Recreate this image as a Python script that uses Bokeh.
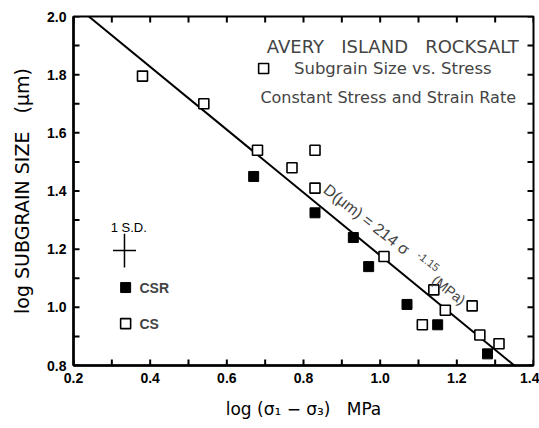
from bokeh.plotting import figure
from bokeh.models import Range1d, FixedTicker, Label, PrintfTickFormatter
from bokeh.embed import file_html
from bokeh.resources import INLINE
import math

# ---- data ----
cs_x = [0.38, 0.54, 0.68, 0.77, 0.83, 0.83, 1.01, 1.11, 1.14, 1.17, 1.24, 1.26, 1.31]
cs_y = [1.795, 1.70, 1.54, 1.48, 1.54, 1.41, 1.175, 0.94, 1.06, 0.99, 1.005, 0.905, 0.875]
csr_x = [0.67, 0.83, 0.93, 0.97, 1.07, 1.15, 1.28]
csr_y = [1.45, 1.325, 1.24, 1.14, 1.01, 0.94, 0.84]
fit_x = [0.24, 1.35]
fit_y = [2.0, 0.8]
sd_center = (0.333, 1.195)
sd_half = (0.03, 0.058)
x_ticks = [0.2, 0.4, 0.6, 0.8, 1.0, 1.2, 1.4]
x_minor = [0.3, 0.5, 0.7, 0.9, 1.1, 1.3]
y_ticks = [0.8, 1.0, 1.2, 1.4, 1.6, 1.8, 2.0]
y_minor = [0.9, 1.1, 1.3, 1.5, 1.7, 1.9]
x_lo, x_hi = 0.2, 1.4
y_lo, y_hi = 0.8, 2.0

FONT = "Liberation Sans"
WIDE = "DejaVu Sans"
NB = "\u00a0"
FW, FH = 460, 349
TICK_PX = 6

p = figure(frame_width=FW, frame_height=FH, output_backend="svg", toolbar_location=None,
           x_range=Range1d(x_lo, x_hi), y_range=Range1d(y_lo, y_hi),
           min_border_left=73, min_border_right=6, min_border_top=16, min_border_bottom=63,
           x_axis_label="log (σ₁ − σ₃)" + NB * 3 + "MPa",
           y_axis_label="log SUBGRAIN SIZE" + NB * 3 + "(μm)")
p.grid.visible = False
p.outline_line_color = "black"
p.outline_line_width = 2
p.background_fill_color = "white"
p.border_fill_color = "white"

for ax, ticks, minor in ((p.xaxis[0], x_ticks, x_minor), (p.yaxis[0], y_ticks, y_minor)):
    ax.ticker = FixedTicker(ticks=ticks, minor_ticks=minor)
    ax.axis_line_width = 2.5
    ax.axis_line_color = "black"
    ax.major_tick_in = 0
    ax.major_tick_out = 0
    ax.minor_tick_in = 0
    ax.minor_tick_out = 0
    ax.formatter = PrintfTickFormatter(format="%.1f")
    ax.major_label_text_font = FONT
    ax.major_label_text_font_size = "14px"
    ax.major_label_text_font_style = "bold"
    ax.major_label_text_color = "black"
    ax.major_label_standoff = 7
    ax.axis_label_text_font = WIDE
    ax.axis_label_text_font_style = "normal"
    ax.axis_label_text_color = "black"
    ax.axis_label_standoff = 13
p.xaxis[0].axis_label_text_font_size = "17px"
p.yaxis[0].axis_label_text_font_size = "19px"
p.yaxis[0].axis_label_standoff = 11

# inward tick marks on all four sides, drawn as short segments
tdx = TICK_PX * (x_hi - x_lo) / FW
tdy = TICK_PX * (y_hi - y_lo) / FH
xt = x_ticks + x_minor
yt = y_ticks + y_minor
p.segment(x0=xt, y0=[y_lo] * len(xt), x1=xt, y1=[y_lo + tdy] * len(xt),
          line_color="black", line_width=2)
p.segment(x0=xt, y0=[y_hi] * len(xt), x1=xt, y1=[y_hi - tdy] * len(xt),
          line_color="black", line_width=2)
p.segment(x0=[x_lo] * len(yt), y0=yt, x1=[x_lo + tdx] * len(yt), y1=yt,
          line_color="black", line_width=2)
p.segment(x0=[x_hi] * len(yt), y0=yt, x1=[x_hi - tdx] * len(yt), y1=yt,
          line_color="black", line_width=2)

# fit line
p.line(fit_x, fit_y, line_color="black", line_width=2)

# data points
p.scatter(cs_x, cs_y, marker="square", size=10, fill_color="white",
          line_color="black", line_width=1.6)
p.scatter(csr_x, csr_y, marker="square", size=10, fill_color="black",
          line_color="black", line_width=1)

# 1 S.D. cross
cx, cy = sd_center
hx, hy = sd_half
p.segment(x0=[cx - hx, cx], y0=[cy, cy - hy], x1=[cx + hx, cx], y1=[cy, cy + hy],
          line_color="black", line_width=1.5)
p.add_layout(Label(x=0.297, y=1.274, text="1 S.D.", text_font=FONT, text_font_size="13px",
                   text_align="left", text_baseline="middle", text_color="black"))

# legend squares (lower left)
p.scatter([0.336], [1.068], marker="square", size=10, fill_color="black", line_color="black")
p.scatter([0.336], [0.944], marker="square", size=10, fill_color="white",
          line_color="black", line_width=1.6)
p.add_layout(Label(x=0.372, y=1.068, text="CSR", text_font=FONT, text_font_size="14px",
                   text_font_style="bold", text_align="left", text_baseline="middle"))
p.add_layout(Label(x=0.372, y=0.944, text="CS", text_font=FONT, text_font_size="14px",
                   text_font_style="bold", text_align="left", text_baseline="middle"))

# title block (upper right)
p.add_layout(Label(x=1.033, y=1.897, text="AVERY" + NB * 3 + "ISLAND" + NB * 3 + "ROCKSALT",
                   text_font=WIDE, text_font_size="18px", text_align="center",
                   text_baseline="middle"))
p.scatter([0.696], [1.821], marker="square", size=10, fill_color="white",
          line_color="black", line_width=1.6)
p.add_layout(Label(x=1.033, y=1.821, text="Subgrain Size vs. Stress", text_font=WIDE,
                   text_font_size="16.5px", text_align="center", text_baseline="middle"))
p.add_layout(Label(x=1.021, y=1.721, text="Constant Stress and Strain Rate", text_font=WIDE,
                   text_font_size="16px", text_align="center", text_baseline="middle"))

# equation along the line
ang = -math.radians(38)
p.add_layout(Label(x=0.858, y=1.412, text="D(μm) = 214 σ", text_font=FONT,
                   text_font_size="16px", angle=ang, text_align="left",
                   text_baseline="alphabetic"))
p.add_layout(Label(x=1.10, y=1.185, text="-1.15", text_font=FONT,
                   text_font_size="11px", angle=ang, text_align="left",
                   text_baseline="alphabetic"))
p.add_layout(Label(x=1.14, y=1.10, text="(MPa)", text_font=FONT,
                   text_font_size="14px", angle=ang, text_align="left",
                   text_baseline="alphabetic"))

open("out.html", "w").write(file_html(p, INLINE))
